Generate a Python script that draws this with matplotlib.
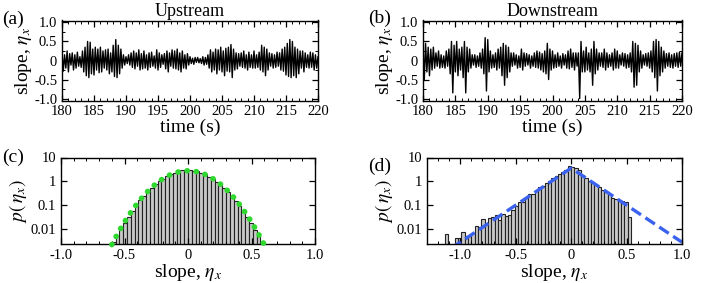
import numpy as np
import matplotlib
matplotlib.use("Agg")
import matplotlib.pyplot as plt
from matplotlib.ticker import MultipleLocator, LogLocator, NullFormatter

plt.rcParams['font.family'] = ['Liberation Serif', 'DejaVu Serif']
plt.rcParams['mathtext.fontset'] = 'stix'
plt.rcParams['axes.unicode_minus'] = False

# slope time series, alternating extremes every 0.2 s from 180 s to 220 s
up_slope = [
    0.22, -0.28, 0.15, -0.2, 0.25,   -0.3, 0.18, -0.12, 0.2, -0.25,
    0.15, -0.2, 0.22, -0.15, 0.1,    -0.18, 0.25, -0.3, 0.35, -0.4,
    0.5, -0.45, 0.48, -0.35, 0.3,    -0.38, 0.35, -0.25, 0.3, -0.32,
    0.35, -0.3, 0.25, -0.2, 0.28,    -0.25, 0.3, -0.35, 0.2, -0.3,
    0.4, -0.42, 0.55, -0.45, 0.4,    -0.35, 0.3, -0.2, 0.15, -0.12,
    0.1, -0.08, 0.15, -0.12, 0.2,    -0.18, 0.25, -0.22, 0.2, -0.15,
    0.28, -0.25, 0.18, -0.22, 0.25,  -0.2, 0.15, -0.25, 0.2, -0.18,
    0.22, -0.15, 0.12, -0.2, 0.28,   -0.25, 0.2, -0.18, 0.15, -0.1,
    0.18, -0.22, 0.25, -0.3, 0.2,    -0.15, 0.28, -0.2, 0.25, -0.22,
    0.3, -0.25, 0.2, -0.3, 0.25,     -0.2, 0.15, -0.22, 0.18, -0.12,
    0.1, -0.08, 0.06, -0.1, 0.08,    -0.05, 0.08, -0.06, 0.05, -0.08,
    0.1, -0.12, 0.08, -0.1, 0.15,    -0.2, 0.28, -0.3, 0.22, -0.25,
    0.3, -0.35, 0.28, -0.25, 0.35,   -0.3, 0.25, -0.4, 0.32, -0.28,
    0.35, -0.3, 0.42, -0.45, 0.3,    -0.25, 0.2, -0.22, 0.18, -0.15,
    0.2, -0.18, 0.25, -0.2, 0.15,    -0.25, 0.22, -0.18, 0.15, -0.2,
    0.25, -0.2, 0.15, -0.18, 0.22,   -0.25, 0.4, -0.3, 0.35, -0.4,
    0.3, -0.25, 0.2, -0.15, 0.18,    -0.2, 0.15, -0.18, 0.22, -0.15,
    0.2, -0.25, 0.3, -0.28, 0.35,    -0.38, 0.45, -0.42, 0.55, -0.45,
    0.5, -0.4, 0.35, -0.45, 0.3,     -0.35, 0.25, -0.2, 0.25, -0.3,
    0.2, -0.18, 0.15, -0.2, 0.22,    -0.18, 0.2, -0.25, 0.15, -0.2,
    0.1,
]
down_slope = [
    0.4, -0.5, 0.45, -0.3, 0.35,     -0.4, 0.3, -0.25, 0.35, -0.2,
    0.2, -0.15, 0.25, -0.2, 0.15,    -0.18, 0.12, -0.2, 0.25, -0.15,
    0.3, -0.35, 0.5, -0.85, 0.4,     -0.3, 0.5, -0.4, 0.3, -0.25,
    0.35, -0.45, 0.5, -0.85, 0.35,   -0.3, 0.3, -0.2, 0.15, -0.12,
    0.15, -0.18, 0.12, -0.15, 0.2,   -0.2, 0.3, -0.35, 0.6, -0.8,
    0.55, -0.3, 0.25, -0.2, 0.15,    -0.18, 0.2, -0.25, 0.3, -0.2,
    0.35, -0.4, 0.45, -0.65, 0.4,    -0.45, 0.35, -0.3, 0.2, -0.15,
    0.2, -0.12, 0.15, -0.2, 0.12,    -0.18, 0.3, -0.25, 0.2, -0.15,
    0.18, -0.12, 0.15, -0.2, 0.12,   -0.15, 0.2, -0.18, 0.25, -0.2,
    0.22, -0.25, 0.18, -0.3, 0.25,   -0.35, 0.45, -0.5, 0.3, -0.25,
    0.25, -0.2, 0.15, -0.18, 0.2,    -0.15, 0.12, -0.2, 0.18, -0.12,
    0.15, -0.2, 0.25, -0.22, 0.3,    -0.18, 0.2, -0.25, 0.2, -0.15,
    0.2, -1.0, 0.5, -0.3, 0.25,      -0.3, 0.35, -0.25, 0.2, -0.3,
    0.3, -0.65, 0.5, -0.35, 0.3,     -0.25, 0.2, -0.15, 0.2, -0.18,
    0.3, -0.25, 0.2, -0.18, 0.15,    -0.15, 0.2, -0.25, 0.3, -0.2,
    0.25, -0.2, 0.15, -0.12, 0.2,    -0.15, 0.18, -0.2, 0.15, -0.18,
    0.2, -0.3, 0.5, -0.7, 0.45,      -0.65, 0.4, -0.3, 0.25, -0.2,
    0.15, -0.12, 0.18, -0.15, 0.2,   -0.2, 0.25, -0.3, 0.5, -0.45,
    0.55, -0.8, 0.5, -0.4, 0.35,     -0.3, 0.25, -0.2, 0.18, -0.15,
    0.2, -0.18, 0.15, -0.2, 0.18,    -0.15, 0.2, -0.18, 0.22, -0.15,
    0.2,
]
t_start, t_end = 180, 220

# histogram (c): upstream, bins of 0.03 from -0.6 to 0.6
c_bin_lo, c_bin_w = -0.6, 0.03
c_hist = [0.0030, 0.0052, 0.0098, 0.018, 0.033, 0.058, 0.097, 0.16, 0.25, 0.37,
          0.54, 0.75, 1.0, 1.3, 1.65, 2.0, 2.35, 2.65, 2.9, 3.05,
          3.0, 2.85, 2.6, 2.3, 1.95, 1.6, 1.28, 0.98, 0.73, 0.52,
          0.36, 0.24, 0.155, 0.095, 0.056, 0.032, 0.018, 0.0095, 0.005, 0.0028]
gauss_peak, gauss_sigma = 2.8, 0.159

# histogram (d): downstream, bins of 0.03 from -1.14 to 0.54
d_bin_lo, d_bin_w = -1.14, 0.03
d_hist = [0.0062, 0, 0, 0.0041, 0.0041, 0.0079, 0.0053, 0.0053, 0.0068, 0.0142,
          0.0128, 0.027, 0.0163, 0.0294, 0.031, 0.038, 0.025, 0.044, 0.035, 0.038,
          0.066, 0.098, 0.137, 0.137, 0.21, 0.31, 0.31, 0.40, 0.56, 0.66,
          0.85, 1.07, 1.40, 1.76, 2.07, 2.45, 3.1, 4.4, 4.0, 3.6,
          2.9, 1.88, 1.40, 1.07, 0.91, 0.70, 0.56, 0.45, 0.37, 0.29,
          0.21, 0.19, 0.166, 0.15, 0.137, 0.032]
exp_peak, exp_scale = 3.6, 0.14

W, H = 706, 283
fig = plt.figure(figsize=(W / 100, H / 100), dpi=100)


def box(l, r, t, b):
    return [l / W, 1 - b / H, (r - l) / W, (b - t) / H]


ax_a = fig.add_axes(box(62, 318, 20.5, 100.5))
ax_b = fig.add_axes(box(423, 682, 20.5, 100.5))
ax_c = fig.add_axes(box(61, 315, 157.5, 244))
ax_d = fig.add_axes(box(427, 682, 157.5, 244))


def style(ax):
    ax.tick_params(which='both', direction='in', top=True, right=True, labelsize=10.5)
    ax.tick_params(which='major', length=4.5, width=0.9)
    ax.tick_params(which='minor', length=2.5, width=0.7)
    for s in ax.spines.values():
        s.set_linewidth(1.0)


for ax, vals, title in [(ax_a, up_slope, 'Upstream'), (ax_b, down_slope, 'Downstream')]:
    t = np.linspace(t_start, t_end, len(vals))
    ax.plot(t, vals, color='black', lw=1.0)
    ax.set_xlim(180, 220)
    ax.set_ylim(-1.05, 1.05)
    ax.set_xticks([180, 185, 190, 195, 200, 205, 210, 215, 220])
    ax.xaxis.set_minor_locator(MultipleLocator(1))
    ax.set_yticks([-1, -0.5, 0, 0.5, 1], ['-1.0', '-0.5', '0', '0.5', '1.0'])
    ax.yaxis.set_minor_locator(MultipleLocator(0.25))
    ax.set_xlabel('time (s)', fontsize=14, labelpad=0)
    ax.set_ylabel(r'slope, $\eta_x$', fontsize=14, labelpad=0)
    ax.set_title(title, fontsize=13, pad=1)
    style(ax)

# (c)
edges_c = c_bin_lo + c_bin_w * np.arange(len(c_hist))
ax_c.set_yscale('log')
ax_c.bar(edges_c, c_hist, width=c_bin_w, align='edge', color='#c8c8c8',
         edgecolor='#222222', lw=0.8)
xg = np.linspace(-0.6, 0.6, 600)
ax_c.plot(xg, gauss_peak * np.exp(-xg ** 2 / (2 * gauss_sigma ** 2)), color='#2fd82f',
          lw=4.0, linestyle=(0, (0.05, 1.6)), dash_capstyle='round', clip_on=False,
          zorder=5)
ax_c.set_xlim(-1, 1)
ax_c.set_xticks([-1, -0.5, 0, 0.5, 1], ['-1.0', '-0.5', '0', '0.5', '1.0'])

# (d)
d_hist = np.array(d_hist)
edges_d = d_bin_lo + d_bin_w * np.arange(len(d_hist))
keep = d_hist > 0
ax_d.set_yscale('log')
ax_d.bar(edges_d[keep], d_hist[keep], width=d_bin_w, align='edge', color='#c8c8c8',
         edgecolor='#222222', lw=0.8)
xe = np.linspace(-1.08, 1.0, 400)
ax_d.plot(xe, exp_peak * np.exp(-np.abs(xe) / exp_scale), color='#3a62ee',
          lw=2.4, linestyle=(0, (3.4, 1.6)))
ax_d.set_xlim(-1.3, 1.0)
ax_d.set_xticks([-1, -0.5, 0, 0.5, 1], ['-1.0', '-0.5', '0', '0.5', '1.0'])

for ax in (ax_c, ax_d):
    ax.set_ylim(0.0024, 10)
    ax.set_yticks([0.01, 0.1, 1, 10], ['0.01', '0.1', '1', '10'])
    ax.yaxis.set_minor_locator(LogLocator(base=10, subs=np.arange(2, 10)))
    ax.yaxis.set_minor_formatter(NullFormatter())
    ax.xaxis.set_minor_locator(MultipleLocator(0.1))
    ax.set_xlabel(r'slope, $\eta_x$', fontsize=14, labelpad=0)
    ax.set_ylabel(r'$p(\,\eta_x)$', fontsize=14, labelpad=1)
    style(ax)

fig.text(2 / W, 1 - 19 / H, '(a)', fontsize=14, va='center', ha='left')
fig.text(368 / W, 1 - 18 / H, '(b)', fontsize=14, va='center', ha='left')
fig.text(2 / W, 1 - 157 / H, '(c)', fontsize=14, va='center', ha='left')
fig.text(368 / W, 1 - 166 / H, '(d)', fontsize=14, va='center', ha='left')

fig.savefig('out.png', dpi=100)
